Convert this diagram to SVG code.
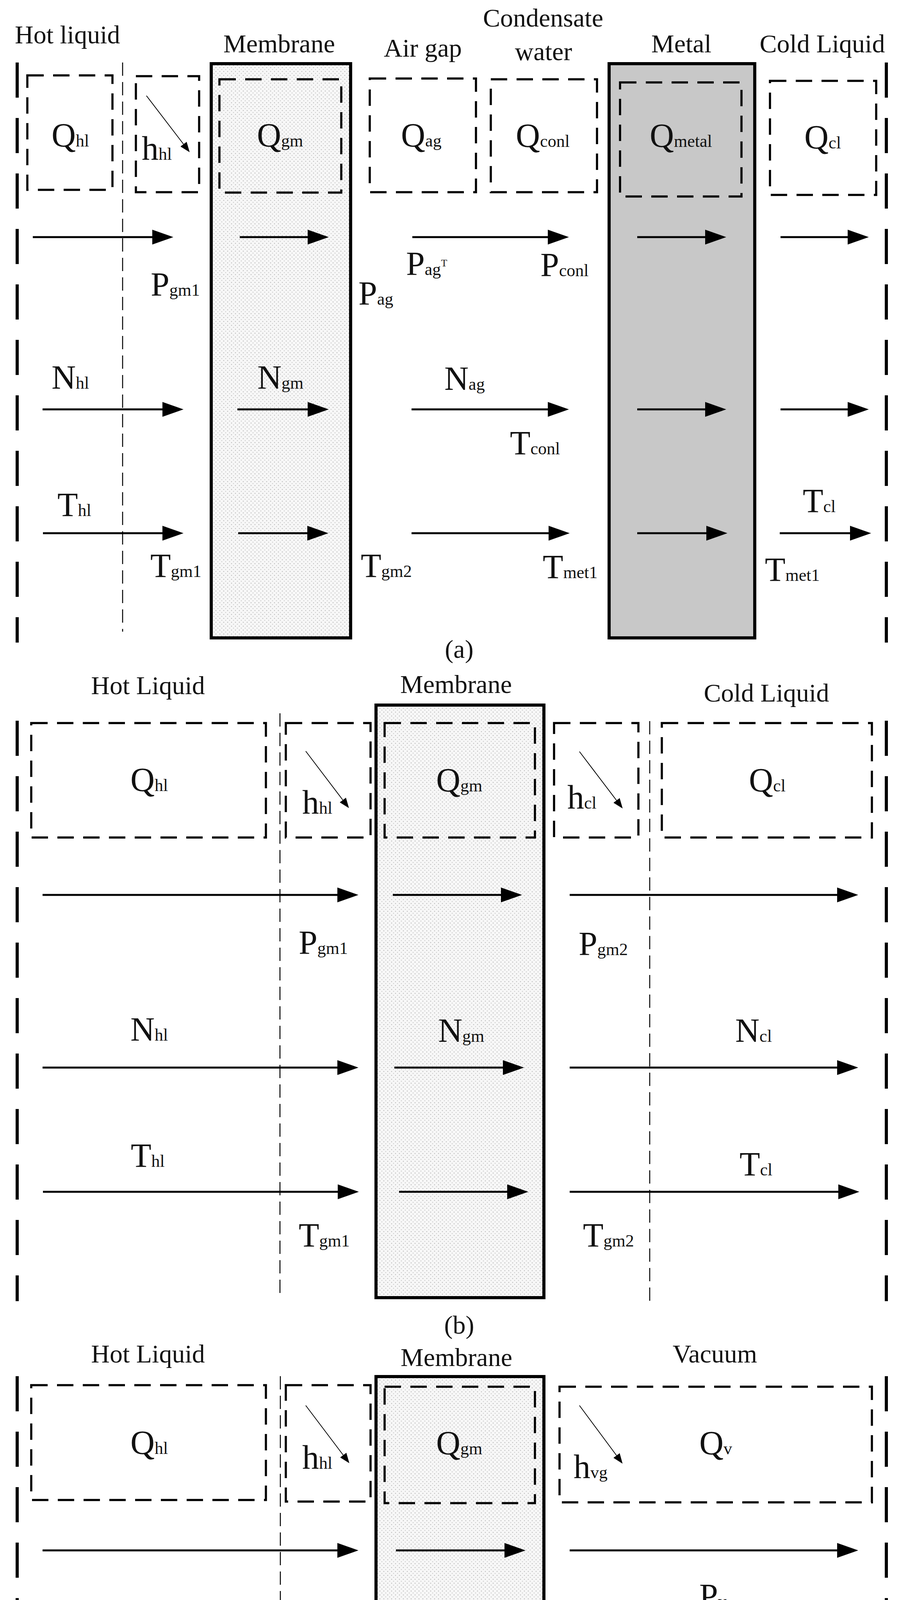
<svg xmlns="http://www.w3.org/2000/svg" width="2305" height="5169" viewBox="0 0 2305 5169">
<defs>
<style>
text{font-family:"Liberation Serif","Times New Roman",serif;fill:#111}
.h{font-size:66px}
.m{font-size:86px}
.s{font-size:44px}
.sup{font-size:26px}
.side{stroke:#000;stroke-width:8;stroke-dasharray:90 52;fill:none}
.thin{stroke:#000;stroke-width:2.5;stroke-dasharray:34 16;fill:none}
.box{stroke:#000;stroke-width:5.5;stroke-dasharray:42 24;fill:none}
.mem{fill:url(#dots);stroke:#000;stroke-width:8}
.met{fill:#c8c8c8;stroke:#000;stroke-width:8}
.ar{stroke:#000;stroke-width:5;fill:none;marker-end:url(#ah)}
.sa{stroke:#000;stroke-width:2;fill:none;marker-end:url(#sh)}
</style>
<pattern id="dots" width="10" height="10" patternUnits="userSpaceOnUse">
<rect width="10" height="10" fill="#f7f7f7"/>
<circle cx="3" cy="3" r="1.3" fill="#b8b8b8"/>
<circle cx="8" cy="8" r="1.3" fill="#c8c8c8"/>
</pattern>
<marker id="ah" markerUnits="userSpaceOnUse" markerWidth="56" markerHeight="40" refX="0" refY="19" orient="auto">
<path d="M0,0 L54,19 L0,38 z" fill="#000"/>
</marker>
<marker id="sh" markerUnits="userSpaceOnUse" markerWidth="30" markerHeight="24" refX="0" refY="10" orient="auto">
<path d="M0,0 L26,10 L0,20 z" fill="#000"/>
</marker>
</defs>

<!-- Panel (a) -->
<g id="panel-a">
<line class="side" x1="44" y1="160" x2="44" y2="1645"/>
<line class="side" x1="2270" y1="160" x2="2270" y2="1645"/>
<line class="thin" x1="314" y1="160" x2="314" y2="1617"/>
<g id="a-membrane"><rect class="mem" x="541" y="163" width="357" height="1470"/></g>
<g id="a-metal"><rect class="met" x="1560" y="163" width="373" height="1470"/></g>
<text class="h" x="38" y="111">Hot liquid</text>
<text class="h" x="715" y="134" text-anchor="middle">Membrane</text>
<text class="h" x="983" y="145">Air gap</text>
<text class="h" x="1391" y="68" text-anchor="middle">Condensate</text>
<text class="h" x="1392" y="154" text-anchor="middle">water</text>
<text class="h" x="1745" y="134" text-anchor="middle">Metal</text>
<text class="h" x="2106" y="134" text-anchor="middle">Cold Liquid</text>
<g id="a-Qhl"><rect class="box" x="70" y="193" width="218" height="293"/><text class="m" x="132" y="375">Q<tspan class="s">hl</tspan></text></g>
<g id="a-hhl"><rect class="box" x="348" y="195" width="162" height="297"/><text class="m" x="363" y="409">h<tspan class="s">hl</tspan></text></g>
<g id="a-Qgm"><rect class="box" x="562" y="203" width="312" height="290"/><text class="m" x="658" y="375">Q<tspan class="s">gm</tspan></text></g>
<g id="a-Qag"><rect class="box" x="947" y="201" width="272" height="291"/><text class="m" x="1027" y="375">Q<tspan class="s">ag</tspan></text></g>
<g id="a-Qconl"><rect class="box" x="1257" y="203" width="272" height="289"/><text class="m" x="1321" y="376">Q<tspan class="s">conl</tspan></text></g>
<g id="a-Qmetal"><rect class="box" x="1588" y="211" width="311" height="292"/><text class="m" x="1664" y="376">Q<tspan class="s">metal</tspan></text></g>
<g id="a-Qcl"><rect class="box" x="1972" y="207" width="272" height="292"/><text class="m" x="2060" y="380">Q<tspan class="s">cl</tspan></text></g>
<text class="m" x="386" y="757">P<tspan class="s">gm1</tspan></text>
<text class="m" x="918" y="780">P<tspan class="s">ag</tspan></text>
<text class="m" x="1040" y="704">P<tspan class="s">ag</tspan><tspan class="sup" dy="-22">T</tspan></text>
<text class="m" x="1384" y="707">P<tspan class="s">conl</tspan></text>
<text class="m" x="132" y="995">N<tspan class="s">hl</tspan></text>
<text class="m" x="659" y="995">N<tspan class="s">gm</tspan></text>
<text class="m" x="1138" y="998">N<tspan class="s">ag</tspan></text>
<text class="m" x="1306" y="1163">T<tspan class="s">conl</tspan></text>
<text class="m" x="147" y="1321">T<tspan class="s">hl</tspan></text>
<text class="m" x="385" y="1477">T<tspan class="s">gm1</tspan></text>
<text class="m" x="924" y="1477">T<tspan class="s">gm2</tspan></text>
<text class="m" x="1390" y="1480">T<tspan class="s">met1</tspan></text>
<text class="m" x="1959" y="1487">T<tspan class="s">met1</tspan></text>
<text class="m" x="2056" y="1311">T<tspan class="s">cl</tspan></text>
<text class="h" x="1176" y="1684" text-anchor="middle">(a)</text>
</g>

<!-- Panel (b) -->
<g id="panel-b">
<line class="side" x1="44" y1="1845" x2="44" y2="3331"/>
<line class="side" x1="2270" y1="1845" x2="2270" y2="3331"/>
<line class="thin" x1="717" y1="1826" x2="717" y2="3322"/>
<line class="thin" x1="1664" y1="1846" x2="1664" y2="3338"/>
<g id="b-membrane"><rect class="mem" x="963" y="1805" width="430" height="1517"/></g>
<text class="h" x="379" y="1777" text-anchor="middle">Hot Liquid</text>
<text class="h" x="1168" y="1774" text-anchor="middle">Membrane</text>
<text class="h" x="1963" y="1796" text-anchor="middle">Cold Liquid</text>
<g id="b-Qhl"><rect class="box" x="80" y="1851" width="601" height="293"/><text class="m" x="334" y="2025">Q<tspan class="s">hl</tspan></text></g>
<g id="b-hhl"><rect class="box" x="732" y="1851" width="217" height="293"/><text class="m" x="774" y="2083">h<tspan class="s">hl</tspan></text></g>
<g id="b-Qgm"><rect class="box" x="985" y="1851" width="385" height="293"/><text class="m" x="1117" y="2026">Q<tspan class="s">gm</tspan></text></g>
<g id="b-hcl"><rect class="box" x="1419" y="1851" width="216" height="293"/><text class="m" x="1453" y="2070">h<tspan class="s">cl</tspan></text></g>
<g id="b-Qcl"><rect class="box" x="1695" y="1851" width="538" height="293"/><text class="m" x="1918" y="2026">Q<tspan class="s">cl</tspan></text></g>
<text class="m" x="765" y="2442">P<tspan class="s">gm1</tspan></text>
<text class="m" x="1482" y="2445">P<tspan class="s">gm2</tspan></text>
<text class="m" x="334" y="2664">N<tspan class="s">hl</tspan></text>
<text class="m" x="1122" y="2667">N<tspan class="s">gm</tspan></text>
<text class="m" x="1883" y="2667">N<tspan class="s">cl</tspan></text>
<text class="m" x="335" y="2987">T<tspan class="s">hl</tspan></text>
<text class="m" x="1894" y="3009">T<tspan class="s">cl</tspan></text>
<text class="m" x="765" y="3191">T<tspan class="s">gm1</tspan></text>
<text class="m" x="1493" y="3191">T<tspan class="s">gm2</tspan></text>
<text class="h" x="1176" y="3414" text-anchor="middle">(b)</text>
</g>

<!-- Panel (c) -->
<g id="panel-c">
<line class="side" x1="44" y1="3523" x2="44" y2="5018"/>
<line class="side" x1="2270" y1="3523" x2="2270" y2="5018"/>
<line class="thin" x1="718" y1="3523" x2="718" y2="4991"/>
<g id="c-membrane"><rect class="mem" x="963" y="3524" width="430" height="1486"/></g>
<text class="h" x="379" y="3488" text-anchor="middle">Hot Liquid</text>
<text class="h" x="1169" y="3497" text-anchor="middle">Membrane</text>
<text class="h" x="1831" y="3488" text-anchor="middle">Vacuum</text>
<g id="c-Qhl"><rect class="box" x="80" y="3546" width="601" height="294"/><text class="m" x="334" y="3722">Q<tspan class="s">hl</tspan></text></g>
<g id="c-hhl"><rect class="box" x="732" y="3546" width="217" height="298"/><text class="m" x="774" y="3760">h<tspan class="s">hl</tspan></text></g>
<g id="c-Qgm"><rect class="box" x="985" y="3550" width="385" height="298"/><text class="m" x="1117" y="3723">Q<tspan class="s">gm</tspan></text></g>
<g id="c-Qv"><rect class="box" x="1433" y="3550" width="800" height="296"/><text class="m" x="1469" y="3784">h<tspan class="s">vg</tspan></text><text class="m" x="1791" y="3723">Q<tspan class="s">v</tspan></text></g>
<text class="m" x="780" y="4162">P<tspan class="s">gm1</tspan></text>
<text class="m" x="1791" y="4114">P<tspan class="s">v</tspan></text>
<text class="m" x="334" y="4361">N<tspan class="s">hl</tspan></text>
<text class="m" x="1122" y="4362">N<tspan class="s">gm</tspan></text>
<text class="m" x="1795" y="4365">N<tspan class="s">v</tspan></text>
<text class="m" x="338" y="4692">T<tspan class="s">hl</tspan></text>
<text class="m" x="1801" y="4694">T<tspan class="s">v</tspan></text>
<text class="m" x="779" y="4880">T<tspan class="s">gm1</tspan></text>
<text class="h" x="1188" y="5130" text-anchor="middle">(c)</text>
</g>

<g id="connectors">
<!-- a -->
<line class="sa" x1="375" y1="245" x2="470" y2="369"/>
<line class="ar" x1="84" y1="607" x2="390" y2="607"/>
<line class="ar" x1="614" y1="607" x2="788" y2="607"/>
<line class="ar" x1="1056" y1="607" x2="1403" y2="607"/>
<line class="ar" x1="1632" y1="607" x2="1806" y2="607"/>
<line class="ar" x1="1999" y1="607" x2="2171" y2="607"/>
<line class="ar" x1="109" y1="1048" x2="416" y2="1048"/>
<line class="ar" x1="608" y1="1048" x2="788" y2="1048"/>
<line class="ar" x1="1054" y1="1048" x2="1403" y2="1048"/>
<line class="ar" x1="1632" y1="1048" x2="1806" y2="1048"/>
<line class="ar" x1="1999" y1="1048" x2="2171" y2="1048"/>
<line class="ar" x1="110" y1="1365" x2="416" y2="1365"/>
<line class="ar" x1="610" y1="1365" x2="787" y2="1365"/>
<line class="ar" x1="1054" y1="1365" x2="1405" y2="1365"/>
<line class="ar" x1="1632" y1="1365" x2="1809" y2="1365"/>
<line class="ar" x1="1997" y1="1365" x2="2177" y2="1365"/>
<!-- b -->
<line class="sa" x1="783" y1="1923" x2="878" y2="2048"/>
<line class="sa" x1="1484" y1="1924" x2="1579" y2="2049"/>
<line class="ar" x1="109" y1="2291" x2="864" y2="2291"/>
<line class="ar" x1="1006" y1="2291" x2="1283" y2="2291"/>
<line class="ar" x1="1459" y1="2291" x2="2144" y2="2291"/>
<line class="ar" x1="109" y1="2733" x2="864" y2="2733"/>
<line class="ar" x1="1010" y1="2733" x2="1288" y2="2733"/>
<line class="ar" x1="1459" y1="2733" x2="2144" y2="2733"/>
<line class="ar" x1="110" y1="3051" x2="865" y2="3051"/>
<line class="ar" x1="1022" y1="3051" x2="1299" y2="3051"/>
<line class="ar" x1="1459" y1="3051" x2="2147" y2="3051"/>
<!-- c -->
<line class="sa" x1="783" y1="3598" x2="879" y2="3725"/>
<line class="sa" x1="1484" y1="3598" x2="1579" y2="3726"/>
<line class="ar" x1="109" y1="3969" x2="864" y2="3969"/>
<line class="ar" x1="1014" y1="3969" x2="1292" y2="3969"/>
<line class="ar" x1="1459" y1="3969" x2="2144" y2="3969"/>
<line class="ar" x1="109" y1="4410" x2="864" y2="4410"/>
<line class="ar" x1="1020" y1="4410" x2="1298" y2="4410"/>
<line class="ar" x1="1459" y1="4410" x2="2144" y2="4410"/>
<line class="ar" x1="110" y1="4738" x2="865" y2="4738"/>
<line class="ar" x1="1459" y1="4738" x2="2147" y2="4738"/>
</g>
</svg>
